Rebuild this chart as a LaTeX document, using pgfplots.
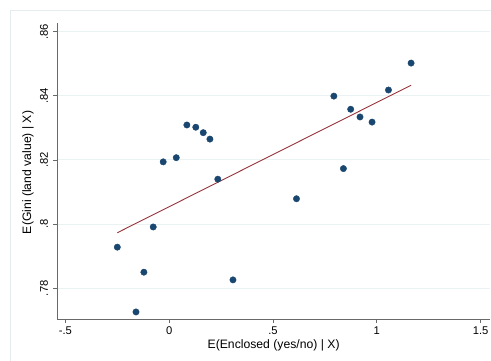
\documentclass[border=0pt]{standalone}
\usepackage{fontspec}
\setmainfont{Liberation Sans}
\usepackage{pgfplots}
\pgfplotsset{compat=1.18}
\usetikzlibrary{calc}
\definecolor{stnavy}{RGB}{26,71,111}
\definecolor{stmaroon}{RGB}{150,52,58}
\definecolor{stgrid}{RGB}{234,242,243}
\definecolor{stframe}{RGB}{228,236,238}
\definecolor{staxis}{RGB}{105,105,105}
\begin{document}
\begin{tikzpicture}[x=1pt,y=1pt]
\begin{axis}[
  scale only axis, width=432.7pt, height=296pt,
  xmin=-0.539, xmax=1.545, ymin=0.7704, ymax=0.8627,
  axis x line*=bottom, axis y line*=left,
  axis line style={draw=staxis, line width=0.9pt, -},
  tick align=outside, major tick length=4pt,
  tick style={draw=staxis, line width=0.8pt},
  xtick={-0.5,0,0.5,1,1.5}, xticklabels={-.5,0,.5,1,1.5},
  ytick={0.78,0.8,0.82,0.84,0.86}, yticklabels={.78,.8,.82,.84,.86},
  ymajorgrids, grid style={stgrid, line width=1pt},
  ticklabel style={font=\fontsize{11.2}{13}\selectfont},
  label style={font=\fontsize{12.2}{14}\selectfont},
  yticklabel style={rotate=90, anchor=south, inner sep=5pt},
  xticklabel style={inner sep=3.5pt},
  xlabel={E(Enclosed (yes/no) | X)},
  ylabel={E(Gini (land value) | X)},
  xlabel style={at={(axis description cs:0.5,-0.0895)}, anchor=center},
  ylabel style={at={(axis description cs:-0.0677,0.495)}, anchor=center},
  clip=false,
]
\coordinate (boxsw) at (rel axis cs:0,0);
% fitted line
\addplot[stmaroon, line width=0.9pt] coordinates {(-0.250,0.7973) (1.165,0.8433)};
% residual pairs
\addplot[only marks, mark=*, mark size=3.2pt, mark options={fill=stnavy, draw=stnavy}] table {
x y
-0.029 0.8194
0.034 0.8207
0.085 0.8309
0.128 0.8302
0.164 0.8285
0.196 0.8265
0.234 0.8140
1.165 0.8502
1.056 0.8418
0.793 0.8399
0.874 0.8358
0.919 0.8334
0.977 0.8318
0.839 0.8173
-0.250 0.7928
-0.077 0.7991
-0.122 0.7850
-0.160 0.7726
0.307 0.7826
0.613 0.8079
};
\end{axis}
% page extent and outer graph-region frame
\pgfresetboundingbox
\useasboundingbox ($(boxsw)+(-57.3,-41)$) rectangle ($(boxsw)+(433.7,319)$);
\begin{scope}
\clip ($(boxsw)+(-57.3,-41)$) rectangle ($(boxsw)+(433.7,319)$);
\draw[stframe, line width=1pt] ($(boxsw)+(-46.8,-60)$) rectangle ($(boxsw)+(470,308.5)$);
\end{scope}
\end{tikzpicture}
\end{document}
